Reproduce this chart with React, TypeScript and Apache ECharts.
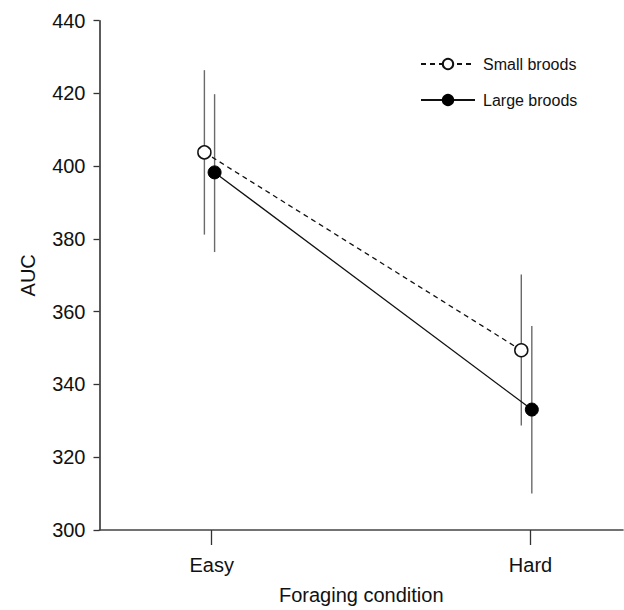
import React, { useEffect, useRef } from "react";
import * as echarts from "echarts";

const categories = ["Easy", "Hard"];
const seriesNames = ["Small broods", "Large broods"];

// x positions (category index 1 = Easy, 2 = Hard) with the slight dodge seen in the figure
const smallX = [0.977, 1.971];
const largeX = [1.009, 2.004];

const smallMean = [403.8, 349.4];
const smallLow = [381.2, 328.7];
const smallHigh = [426.4, 370.2];

const largeMean = [398.3, 333.1];
const largeLow = [376.4, 310.0];
const largeHigh = [419.8, 356.1];

const yTicks = { min: 300, max: 440, interval: 20 };

const FONT = "'Liberation Sans', Arial, Helvetica, sans-serif";

export default function App() {
  const ref = useRef<HTMLDivElement>(null);
  useEffect(() => {
    if (!ref.current) return;
    const chart = echarts.init(ref.current, undefined, { renderer: "svg" });

    const smallPts = smallX.map((x, i) => [x, smallMean[i]]);
    const largePts = largeX.map((x, i) => [x, largeMean[i]]);
    const errData = [
      ...smallX.map((x, i) => [x, smallLow[i], smallHigh[i]]),
      ...largeX.map((x, i) => [x, largeLow[i], largeHigh[i]]),
    ];

    chart.setOption({
      animation: false,
      textStyle: { fontFamily: FONT },
      grid: { left: 99.5, right: 1, top: 20.7, bottom: 73.3, containLabel: false },
      legend: {
        orient: "vertical",
        left: 420,
        top: 56,
        padding: 0,
        itemWidth: 54,
        itemHeight: 13,
        itemGap: 20,
        data: seriesNames,
        textStyle: { fontSize: 16, color: "#111", fontFamily: FONT, padding: [0, 0, 0, 3] },
      },
      xAxis: {
        type: "value",
        min: 0.648,
        max: 2.29,
        name: "Foraging condition",
        nameLocation: "middle",
        nameGap: 55,
        nameTextStyle: { fontSize: 20, color: "#111", fontFamily: FONT },
        splitLine: { show: false },
        axisLine: { show: true, lineStyle: { color: "#444", width: 1.6 } },
        axisTick: {
          show: true,
          length: 15,
          customValues: [1, 2],
          lineStyle: { color: "#333", width: 1.3 },
        },
        axisLabel: {
          customValues: [1, 2],
          margin: 25,
          fontSize: 20,
          color: "#111",
          fontFamily: FONT,
          formatter: (v: number) => categories[Math.round(v) - 1] ?? "",
        },
      },
      yAxis: {
        type: "value",
        min: yTicks.min,
        max: yTicks.max,
        interval: yTicks.interval,
        name: "AUC",
        nameLocation: "middle",
        nameGap: 62,
        nameTextStyle: { fontSize: 20, color: "#111", fontFamily: FONT },
        splitLine: { show: false },
        axisLine: { show: true, lineStyle: { color: "#333", width: 1.6 } },
        axisTick: { show: true, length: 6, lineStyle: { color: "#333", width: 1.3 } },
        axisLabel: { margin: 14, fontSize: 20, color: "#111", fontFamily: FONT },
      },
      series: [
        {
          type: "custom",
          name: "err",
          z: 1,
          data: errData,
          encode: { x: 0, y: [1, 2] },
          renderItem: (params: any, api: any) => {
            const x = api.value(0);
            const p1 = api.coord([x, api.value(1)]);
            const p2 = api.coord([x, api.value(2)]);
            return {
              type: "line",
              shape: { x1: p1[0], y1: p1[1], x2: p2[0], y2: p2[1] },
              style: { stroke: "#6a6a6a", lineWidth: 1.4 },
            };
          },
        },
        {
          type: "line",
          name: seriesNames[0],
          z: 3,
          data: smallPts,
          symbol: "circle",
          symbolSize: 13,
          itemStyle: { color: "#fff", borderColor: "#111", borderWidth: 1.5 },
          lineStyle: { color: "#111", width: 1.3, type: [5, 4] },
        },
        {
          type: "line",
          name: seriesNames[1],
          z: 3,
          data: largePts,
          symbol: "circle",
          symbolSize: 13,
          itemStyle: { color: "#000", borderColor: "#000", borderWidth: 1 },
          lineStyle: { color: "#111", width: 1.3 },
        },
      ],
    });
    return () => chart.dispose();
  }, []);

  return (
    <div
      ref={ref}
      style={{ position: "fixed", left: 0, top: 0, width: 624, height: 610, background: "#fff" }}
    />
  );
}
